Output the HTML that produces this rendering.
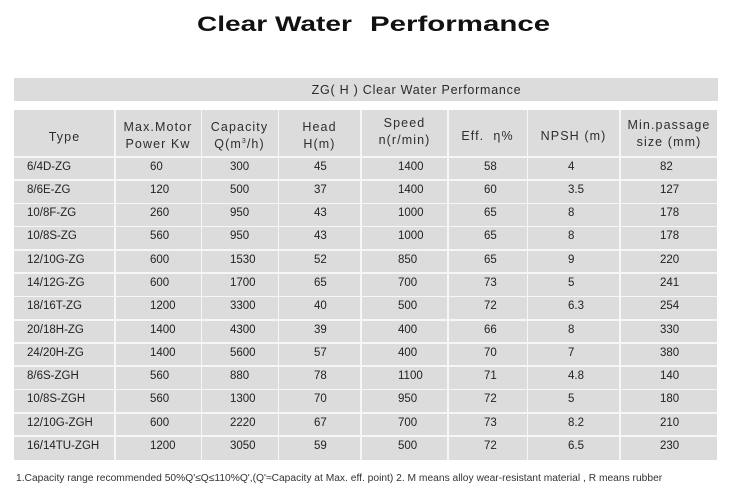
<!DOCTYPE html>
<html>
<head>
<meta charset="utf-8">
<style>
  html,body{margin:0;padding:0;background:#fff;}
  body{width:741px;height:503px;position:relative;overflow:hidden;font-family:"Liberation Sans",Arial,sans-serif;}
  .title{position:absolute;top:12px;font-size:21.5px;font-weight:bold;line-height:25px;color:#111;white-space:nowrap;transform-origin:0 0;}
  .banner{position:absolute;left:14px;top:78px;width:704px;height:23px;background:#dcdcdc;}
  .bannertxt{position:absolute;left:115px;width:603px;top:82.5px;line-height:15px;font-size:12.5px;letter-spacing:0.75px;text-align:center;color:#2a2a2a;white-space:nowrap;}
  .tbl{position:absolute;left:14px;top:110px;width:703px;height:350px;background:#dcdcdc;}
  .vl{position:absolute;top:110px;height:350px;width:1.6px;background:#f6f6f6;}
  .hl{position:absolute;left:14px;width:703px;height:1.8px;background:#f6f6f6;}
  .h{position:absolute;font-size:12.5px;letter-spacing:1.1px;line-height:17px;text-align:center;color:#2e2e2e;white-space:nowrap;}
  .r{position:absolute;left:0;width:741px;height:13px;font-size:11.5px;line-height:13px;color:#222;}
  .r span{position:absolute;top:0;white-space:nowrap;}
  .r span:nth-child(1){left:27px;}
  .r span:nth-child(2){left:150px;}
  .r span:nth-child(3){left:230px;}
  .r span:nth-child(4){left:314px;}
  .r span:nth-child(5){left:398px;}
  .r span:nth-child(6){left:484px;}
  .r span:nth-child(7){left:568px;}
  .r span:nth-child(8){left:660px;}
  .foot{position:absolute;left:16px;top:473px;font-size:10.25px;line-height:12px;color:#333;white-space:nowrap;}
</style>
</head>
<body>
  <div class="title" style="left:197px;transform:scaleX(1.305);">Clear Water</div>
  <div class="title" style="left:370px;transform:scaleX(1.37);">Performance</div>

  <div class="banner"></div>
  <div class="bannertxt">ZG( H ) Clear Water Performance</div>

  <div class="tbl"></div>
  <div class="vl" style="left:114.2px"></div>
  <div class="vl" style="left:200.5px"></div>
  <div class="vl" style="left:277.7px"></div>
  <div class="vl" style="left:360.2px"></div>
  <div class="vl" style="left:447.2px"></div>
  <div class="vl" style="left:526.7px"></div>
  <div class="vl" style="left:619.2px"></div>

  <div class="hl" style="top:155.9px"></div>
  <div class="hl" style="top:179.2px"></div>
  <div class="hl" style="top:202.5px"></div>
  <div class="hl" style="top:225.7px"></div>
  <div class="hl" style="top:249.0px"></div>
  <div class="hl" style="top:272.3px"></div>
  <div class="hl" style="top:295.6px"></div>
  <div class="hl" style="top:318.9px"></div>
  <div class="hl" style="top:342.1px"></div>
  <div class="hl" style="top:365.4px"></div>
  <div class="hl" style="top:388.7px"></div>
  <div class="hl" style="top:412.0px"></div>
  <div class="hl" style="top:435.3px"></div>

  <!-- headers -->
  <div class="h" style="left:14px;width:101px;top:129px;">Type</div>
  <div class="h" style="left:115px;width:86px;top:119px;">Max.Motor<br>Power Kw</div>
  <div class="h" style="left:201px;width:77px;top:119px;">Capacity<br>Q(m<sup style="font-size:7px;line-height:0;vertical-align:5px;">3</sup>/h)</div>
  <div class="h" style="left:278px;width:83px;top:119px;">Head<br>H(m)</div>
  <div class="h" style="left:361px;width:87px;top:115px;">Speed<br>n(r/min)</div>
  <div class="h" style="left:448px;width:79px;top:128px;">Eff.&nbsp; η%</div>
  <div class="h" style="left:527px;width:93px;top:128px;">NPSH (m)</div>
  <div class="h" style="left:620px;width:98px;top:116.5px;">Min.passage<br>size (mm)</div>

  <!-- data rows -->
  <div class="r" style="top:160.5px"><span>6/4D-ZG</span><span>60</span><span>300</span><span>45</span><span>1400</span><span>58</span><span>4</span><span>82</span></div>
  <div class="r" style="top:183.8px"><span>8/6E-ZG</span><span>120</span><span>500</span><span>37</span><span>1400</span><span>60</span><span>3.5</span><span>127</span></div>
  <div class="r" style="top:207.1px"><span>10/8F-ZG</span><span>260</span><span>950</span><span>43</span><span>1000</span><span>65</span><span>8</span><span>178</span></div>
  <div class="r" style="top:230.3px"><span>10/8S-ZG</span><span>560</span><span>950</span><span>43</span><span>1000</span><span>65</span><span>8</span><span>178</span></div>
  <div class="r" style="top:253.6px"><span>12/10G-ZG</span><span>600</span><span>1530</span><span>52</span><span>850</span><span>65</span><span>9</span><span>220</span></div>
  <div class="r" style="top:276.9px"><span>14/12G-ZG</span><span>600</span><span>1700</span><span>65</span><span>700</span><span>73</span><span>5</span><span>241</span></div>
  <div class="r" style="top:300.2px"><span>18/16T-ZG</span><span>1200</span><span>3300</span><span>40</span><span>500</span><span>72</span><span>6.3</span><span>254</span></div>
  <div class="r" style="top:323.5px"><span>20/18H-ZG</span><span>1400</span><span>4300</span><span>39</span><span>400</span><span>66</span><span>8</span><span>330</span></div>
  <div class="r" style="top:346.7px"><span>24/20H-ZG</span><span>1400</span><span>5600</span><span>57</span><span>400</span><span>70</span><span>7</span><span>380</span></div>
  <div class="r" style="top:370.0px"><span>8/6S-ZGH</span><span>560</span><span>880</span><span>78</span><span>1100</span><span>71</span><span>4.8</span><span>140</span></div>
  <div class="r" style="top:393.3px"><span>10/8S-ZGH</span><span>560</span><span>1300</span><span>70</span><span>950</span><span>72</span><span>5</span><span>180</span></div>
  <div class="r" style="top:416.6px"><span>12/10G-ZGH</span><span>600</span><span>2220</span><span>67</span><span>700</span><span>73</span><span>8.2</span><span>210</span></div>
  <div class="r" style="top:439.9px"><span>16/14TU-ZGH</span><span>1200</span><span>3050</span><span>59</span><span>500</span><span>72</span><span>6.5</span><span>230</span></div>

  <div class="foot">1.Capacity range recommended 50%Q'≤Q≤110%Q',(Q'≈Capacity at Max. eff. point) 2. M means alloy wear-resistant material , R means rubber</div>
</body>
</html>
